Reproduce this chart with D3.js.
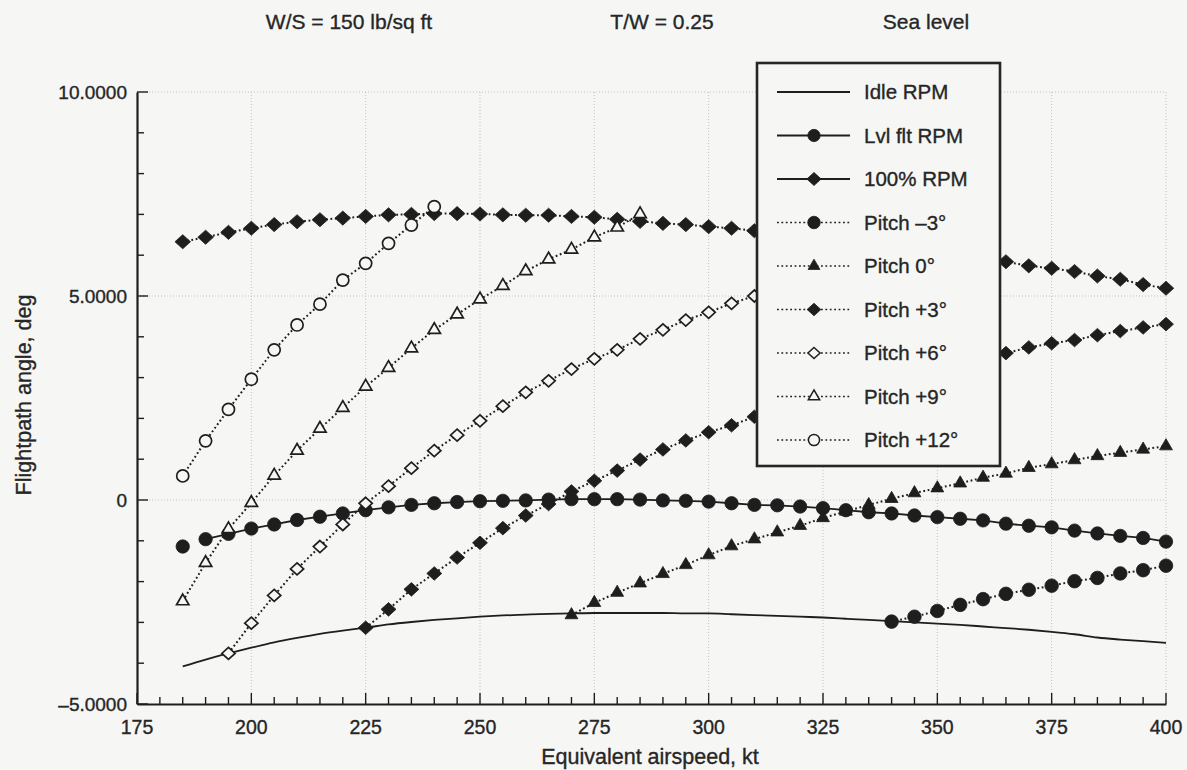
<!DOCTYPE html>
<html>
<head>
<meta charset="utf-8">
<script src="https://cdn.jsdelivr.net/npm/d3@7"></script>
<style>
  html, body { margin: 0; padding: 0; background: #f6f6f4; }
  svg { display: block; }
  text { font-family: "Liberation Sans", Arial, Helvetica, sans-serif; fill: #262626; stroke: #262626; stroke-width: 0.35px; }
</style>
</head>
<body>
<svg id="chart" width="1187" height="770"></svg>
<script>
// ---- Data: flightpath angle (deg) vs. equivalent airspeed (kt) ----
const headerLabels = ["W/S = 150 lb/sq ft", "T/W = 0.25", "Sea level"];

const xTicks = [175, 200, 225, 250, 275, 300, 325, 350, 375, 400];
const yTicks = [-5, 0, 5, 10];
const yTickLabels = ["\u20135.0000", "0", "5.0000", "10.0000"];

const ktIdle = [185,190,195,200,205,210,215,220,225,230,235,240,245,250,255,260,265,270,275,280,285,290,
                295,300,305,310,315,320,325,330,335,340,345,350,355,360,365,370,375,380,385,390,395,400];
const idleRPM = [-4.08,-3.91,-3.76,-3.62,-3.49,-3.38,-3.28,-3.20,-3.13,-3.05,-2.99,-2.94,-2.90,-2.86,-2.83,-2.81,-2.79,-2.78,-2.77,-2.77,-2.77,-2.77,
                 -2.78,-2.78,-2.80,-2.82,-2.84,-2.86,-2.88,-2.91,-2.94,-2.97,-3.00,-3.03,-3.06,-3.10,-3.14,-3.18,-3.23,-3.29,-3.37,-3.42,-3.46,-3.50];

const ktLevel = [190,195,200,205,210,215,220,225,230,235,240,245,250,255,260,265,270,275,280,285,290,
                 295,300,305,310,315,320,325,330,335,340,345,350,355,360,365,370,375,380,385,390,395,400];
const levelRPM = [-0.96,-0.83,-0.70,-0.60,-0.49,-0.41,-0.33,-0.25,-0.18,-0.12,-0.08,-0.05,-0.03,-0.02,-0.01,0.01,0.02,0.02,0.02,0.01,-0.01,
                  -0.02,-0.04,-0.08,-0.12,-0.13,-0.16,-0.20,-0.25,-0.30,-0.33,-0.38,-0.42,-0.46,-0.50,-0.58,-0.63,-0.67,-0.75,-0.82,-0.88,-0.93,-1.02];
const ktLevelFirst = [185];
const levelRPMFirst = [-1.14];

const ktFull = [185,190,195,200,205,210,215,220,225,230,235,240,245,250,255,260,265,270,275,280,285,290,
                295,300,305,310,365,370,375,380,385,390,395,400];
const fullRPM = [6.33,6.44,6.56,6.66,6.75,6.82,6.87,6.91,6.95,6.99,7.00,7.02,7.02,7.01,6.99,6.98,6.98,6.95,6.93,6.88,6.83,6.78,
                 6.75,6.70,6.66,6.60,5.84,5.74,5.68,5.60,5.49,5.41,5.28,5.19];

const ktPitchM3 = [340,345,350,355,360,365,370,375,380,385,390,395,400];
const pitchM3 = [-2.98,-2.86,-2.72,-2.57,-2.43,-2.30,-2.20,-2.10,-1.99,-1.91,-1.80,-1.72,-1.61];

const ktPitch0 = [270,275,280,285,290,295,300,305,310,315,320,325,330,335,340,345,350,355,360,365,370,375,380,385,390,395,400];
const pitch0 = [-2.82,-2.52,-2.27,-2.04,-1.81,-1.59,-1.35,-1.13,-0.96,-0.79,-0.63,-0.44,-0.28,-0.12,0.03,0.17,0.29,0.41,0.55,0.65,0.79,0.88,0.98,1.08,1.16,1.24,1.32];

const ktPitchP3 = [225,230,235,240,245,250,255,260,265,270,275,280,285,290,295,300,305,310,365,370,375,380,385,390,395,400];
const pitchP3 = [-3.13,-2.68,-2.19,-1.80,-1.41,-1.05,-0.69,-0.38,-0.10,0.21,0.47,0.72,0.99,1.24,1.46,1.66,1.83,2.04,3.60,3.74,3.84,3.92,4.04,4.14,4.23,4.31];

const ktPitchP6 = [195,200,205,210,215,220,225,230,235,240,245,250,255,260,265,270,275,280,285,290,295,300,305,310];
const pitchP6 = [-3.76,-3.02,-2.34,-1.69,-1.14,-0.60,-0.08,0.34,0.78,1.21,1.59,1.94,2.30,2.64,2.92,3.21,3.46,3.68,3.95,4.17,4.41,4.60,4.82,5.00];

const ktPitchP9 = [185,190,195,200,205,210,215,220,225,230,235,240,245,250,255,260,265,270,275,280,285];
const pitchP9 = [-2.48,-1.54,-0.71,-0.07,0.60,1.21,1.75,2.26,2.78,3.24,3.72,4.17,4.55,4.92,5.25,5.61,5.90,6.14,6.44,6.68,7.01];

const ktPitchP12 = [185,190,195,200,205,210,215,220,225,230,235,240];
const pitchP12 = [0.59,1.45,2.22,2.96,3.68,4.29,4.80,5.39,5.80,6.29,6.74,7.19];

const legendLabels = ["Idle RPM", "Lvl flt RPM", "100% RPM", "Pitch \u20133\u00b0", "Pitch 0\u00b0",
                      "Pitch +3\u00b0", "Pitch +6\u00b0", "Pitch +9\u00b0", "Pitch +12\u00b0"];

// ---- Chart setup ----
const INK = "#1e1e1e";
const BG = "#f6f6f4";
const DOTS = "1.8,2.6";
const svg = d3.select("#chart");

const x = d3.scaleLinear().domain([175, 400]).range([137, 1166]);
const y = d3.scaleLinear().domain([-5, 10]).range([704, 92]);

// Rotated-square diamond, wider than d3's built-in one
const wideDiamond = {
  draw(ctx, size) {
    const h = Math.sqrt(size / 2);
    const w = h * 1.1;
    ctx.moveTo(0, -h); ctx.lineTo(w, 0); ctx.lineTo(0, h); ctx.lineTo(-w, 0); ctx.closePath();
  }
};

const series = [
  { name: legendLabels[0], kt: ktIdle, v: idleRPM, dash: null, symbol: null, curve: d3.curveMonotoneX },
  { name: legendLabels[1], kt: ktLevel, v: levelRPM, dash: null, symbol: d3.symbolCircle, size: 140, filled: true },
  { name: legendLabels[2], kt: ktFull, v: fullRPM, dash: DOTS, legendDash: null, symbol: wideDiamond, size: 100, filled: true },
  { name: legendLabels[3], kt: ktPitchM3, v: pitchM3, dash: DOTS, symbol: d3.symbolCircle, size: 145, filled: true },
  { name: legendLabels[4], kt: ktPitch0, v: pitch0, dash: DOTS, symbol: d3.symbolTriangle, size: 72, filled: true },
  { name: legendLabels[5], kt: ktPitchP3, v: pitchP3, dash: DOTS, symbol: wideDiamond, size: 92, filled: true },
  { name: legendLabels[6], kt: ktPitchP6, v: pitchP6, dash: DOTS, symbol: wideDiamond, size: 72, filled: false },
  { name: legendLabels[7], kt: ktPitchP9, v: pitchP9, dash: DOTS, symbol: d3.symbolTriangle, size: 66, filled: false },
  { name: legendLabels[8], kt: ktPitchP12, v: pitchP12, dash: DOTS, symbol: d3.symbolCircle, size: 115, filled: false }
];

// ---- Header ----
const headerX = [349, 662, 926];
svg.selectAll("text.header").data(headerLabels).join("text")
  .attr("class", "header")
  .attr("x", (d, i) => headerX[i]).attr("y", 29)
  .attr("text-anchor", "middle").attr("font-size", 21)
  .text(d => d);

// ---- Gridlines ----
const grid = svg.append("g").attr("stroke", "#c2c2c2").attr("stroke-width", 1).attr("stroke-dasharray", "1,2");
grid.selectAll("line.vx").data(xTicks.slice(1)).join("line")
  .attr("x1", d => x(d)).attr("x2", d => x(d)).attr("y1", y(10)).attr("y2", y(-5));
grid.selectAll("line.hy").data(yTicks.slice(1)).join("line")
  .attr("x1", x(175)).attr("x2", x(400)).attr("y1", d => y(d)).attr("y2", d => y(d));

// ---- Series lines ----
const plot = svg.append("g");
series.forEach(s => {
  const pts = s.kt.map((k, i) => [k, s.v[i]]);
  const line = d3.line().x(d => x(d[0])).y(d => y(d[1])).curve(s.curve || d3.curveLinear);
  plot.append("path").datum(pts)
    .attr("d", line)
    .attr("fill", "none").attr("stroke", INK).attr("stroke-width", s.dash ? 2 : 1.8)
    .attr("stroke-dasharray", s.dash);
});
// detached first point of the level-flight curve
const levelFirst = ktLevelFirst.map((k, i) => [k, levelRPMFirst[i]]);

// ---- Series markers ----
const marks = svg.append("g");
series.forEach((s, si) => {
  if (!s.symbol) return;
  let pts = s.kt.map((k, i) => [k, s.v[i]]);
  if (si === 1) pts = levelFirst.concat(pts);
  marks.append("g").selectAll("path").data(pts).join("path")
    .attr("transform", d => `translate(${x(d[0])},${y(d[1])})`)
    .attr("d", d3.symbol().type(s.symbol).size(s.size))
    .attr("fill", s.filled ? INK : BG)
    .attr("stroke", INK).attr("stroke-width", s.filled ? 0.8 : 1.7);
});

// ---- Axes ----
const axes = svg.append("g");
// x axis ticks pointing up into the plot
axes.append("g").selectAll("line").data(d3.range(175, 401, 5)).join("line")
  .attr("x1", d => x(d)).attr("x2", d => x(d))
  .attr("y1", y(-5)).attr("y2", d => y(-5) - (d % 25 === 0 ? 11 : 7))
  .attr("stroke", INK).attr("stroke-width", 1.4);
const xAxis = d3.axisBottom(x).tickValues(xTicks).tickSize(0).tickFormat("");
axes.append("g").attr("transform", `translate(0,${y(-5)})`).call(xAxis)
  .call(g => g.select(".domain").attr("stroke", INK).attr("stroke-width", 2.2));
axes.append("g").selectAll("text").data(xTicks).join("text")
  .attr("x", d => x(d)).attr("y", 734)
  .attr("text-anchor", "middle").attr("font-size", 19.5)
  .text(d => d);

// y axis ticks pointing right into the plot
axes.append("g").selectAll("line").data(d3.range(-5, 10.01, 1)).join("line")
  .attr("x1", x(175)).attr("x2", d => x(175) + (d % 5 === 0 ? 11 : 7))
  .attr("y1", d => y(d)).attr("y2", d => y(d))
  .attr("stroke", INK).attr("stroke-width", 1.4);
const yAxis = d3.axisLeft(y).tickValues(yTicks).tickSize(0).tickFormat("");
axes.append("g").attr("transform", `translate(${x(175)},0)`).call(yAxis)
  .call(g => g.select(".domain").attr("stroke", INK).attr("stroke-width", 2.2));
axes.append("g").selectAll("text").data(yTicks).join("text")
  .attr("x", 127).attr("y", d => y(d)).attr("dy", "0.36em")
  .attr("text-anchor", "end").attr("font-size", 19)
  .text((d, i) => yTickLabels[i]);

// axis titles
svg.append("text").attr("x", 650).attr("y", 764).attr("text-anchor", "middle")
  .attr("font-size", 21.5).text("Equivalent airspeed, kt");
svg.append("text").attr("transform", "translate(31,395) rotate(-90)").attr("text-anchor", "middle")
  .attr("font-size", 21.5).text("Flightpath angle, deg");

// ---- Legend ----
const legend = svg.append("g");
legend.append("rect").attr("x", 757).attr("y", 63).attr("width", 243).attr("height", 403)
  .attr("fill", BG).attr("stroke", "#262626").attr("stroke-width", 2.6);
const rowY = i => 92 + i * 43.5;
series.forEach((s, i) => {
  const g = legend.append("g").attr("transform", `translate(0,${rowY(i)})`);
  const dash = s.legendDash !== undefined ? s.legendDash : s.dash;
  g.append("line").attr("x1", 777).attr("x2", 850).attr("y1", 0).attr("y2", 0)
    .attr("stroke", INK).attr("stroke-width", dash ? 1.6 : 1.8).attr("stroke-dasharray", dash);
  if (s.symbol) {
    g.append("path").attr("transform", "translate(814,0)")
      .attr("d", d3.symbol().type(s.symbol).size(s.size * 0.85))
      .attr("fill", s.filled ? INK : BG).attr("stroke", INK).attr("stroke-width", s.filled ? 0.8 : 1.5);
  }
  g.append("text").attr("x", 864).attr("y", 0).attr("dy", "0.36em")
    .attr("font-size", 20.5).text(s.name);
});
</script>
</body>
</html>
